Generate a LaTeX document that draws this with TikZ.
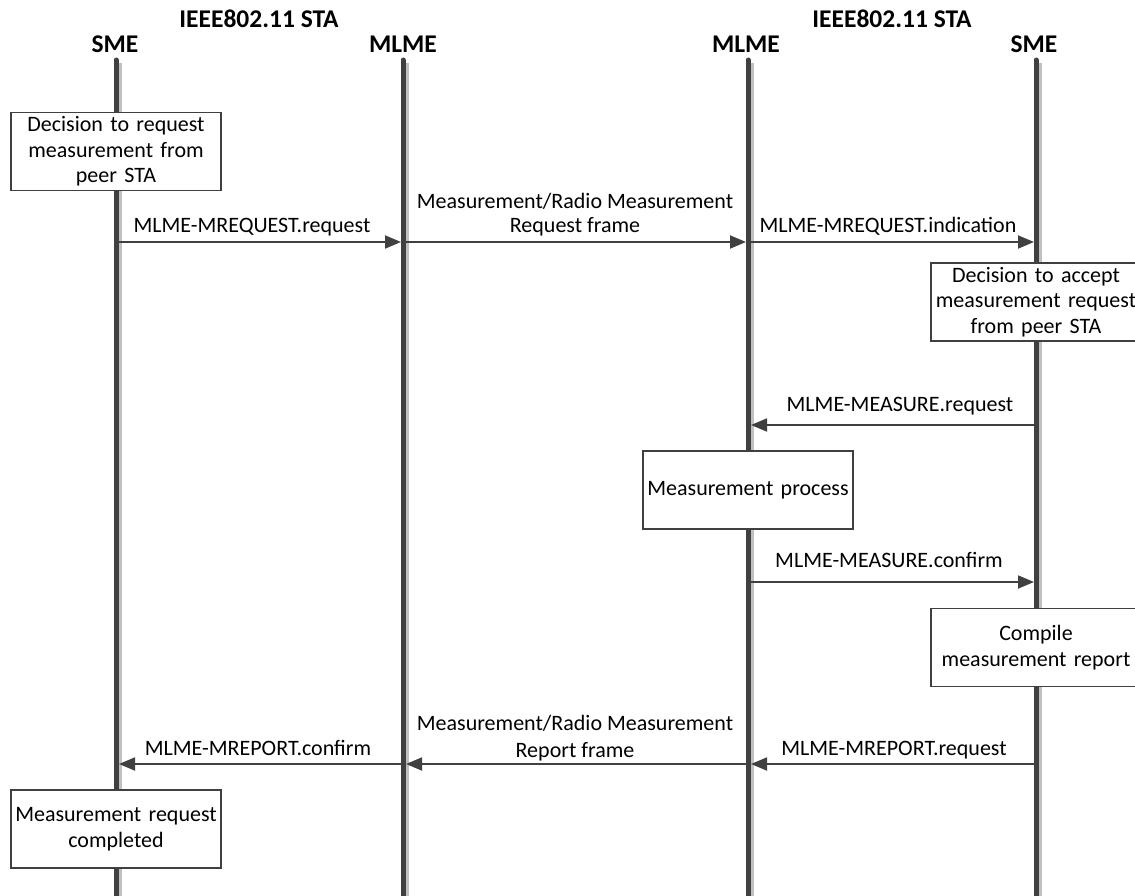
\documentclass[tikz,border=0pt]{standalone}
\usepackage{fontspec}
\setmainfont{Carlito}
\usetikzlibrary{arrows.meta,calc}
\definecolor{darkline}{HTML}{404040}
\definecolor{shadowgray}{HTML}{C0C0C0}
\definecolor{arrowgray}{HTML}{404040}
\tikzset{
  lifeshadow/.style={line width=3.5pt, draw=shadowgray},
  lifeline/.style={line width=5pt, draw=darkline, line cap=round},
  msg/.style={line width=1.8pt, draw=arrowgray, -{Triangle[length=16pt,width=13pt,fill=arrowgray]}},
  actbox/.style={draw=darkline, line width=1.4pt, fill=white, align=center,
    minimum width=210pt, minimum height=78pt, text width=205pt, inner sep=0pt,
    font=\fontsize{22}{25.5}\selectfont},
  hdr/.style={font=\bfseries\fontsize{25.5}{30}\selectfont, anchor=base, inner sep=0pt},
  lbl/.style={font=\fontsize{22}{25.5}\selectfont, align=center, anchor=base, inner sep=0pt}
}
\begin{document}
\begin{tikzpicture}[x=1pt,y=-1pt]
\useasboundingbox (0,0) rectangle (1135,896);
\clip (0,0) rectangle (1135,896);
\fill[white] (0,0) rectangle (1135,896);

% headers
\node[hdr] (staA) at (259,28) {IEEE802.11 STA};
\node[hdr] (staB) at (892,28) {IEEE802.11 STA};
\node[hdr] (hSA) at (115,53) {SME};
\node[hdr] (hMA) at (403,53) {MLME};
\node[hdr] (hMB) at (746,53) {MLME};
\node[hdr] (hSB) at (1034,53) {SME};

% lifeline coordinates
\coordinate (tSA) at (116,60);  \coordinate (bSA) at (116,900);
\coordinate (tMA) at (403,60);  \coordinate (bMA) at (403,900);
\coordinate (tMB) at (748,60);  \coordinate (bMB) at (748,900);
\coordinate (tSB) at (1036,60); \coordinate (bSB) at (1036,900);

\foreach \l in {SA,MA,MB,SB}{
  \draw[lifeshadow] ($(t\l)+(4,3)$) -- ($(b\l)+(4,0)$);
  \draw[lifeline] (t\l) -- (b\l);
}

% activity boxes
\node[actbox] (decReq) at (116,151.5) {Decision to request\\measurement from\\peer STA};
\node[actbox] (decAcc) at (1036,302) {Decision to accept\\measurement request\\from peer STA};
\node[actbox] (measProc) at (748,490) {Measurement process};
\node[actbox] (compile) at (1036,647.5) {Compile\\measurement report};
\node[actbox] (done) at (116,829) {Measurement request\\completed};

% message endpoints
\coordinate (m1s) at (116,242);  \coordinate (m1e) at (401,242);
\coordinate (m2s) at (403,242);  \coordinate (m2e) at (746,242);
\coordinate (m3s) at (748,242);  \coordinate (m3e) at (1034,242);
\coordinate (m4s) at (1036,425); \coordinate (m4e) at (751,425);
\coordinate (m5s) at (748,582);  \coordinate (m5e) at (1034,582);
\coordinate (m6s) at (1036,764); \coordinate (m6e) at (751,764);
\coordinate (m7s) at (748,764);  \coordinate (m7e) at (406,764);
\coordinate (m8s) at (403,764);  \coordinate (m8e) at (119,764);

\draw[msg] (m1s) -- (m1e);
\draw[msg] (m2s) -- (m2e);
\draw[msg] (m3s) -- (m3e);
\draw[msg] (m4s) -- (m4e);
\draw[msg] (m5s) -- (m5e);
\draw[msg] (m6s) -- (m6e);
\draw[msg] (m7s) -- (m7e);
\draw[msg] (m8s) -- (m8e);

% labels
\node[lbl] (l1) at (252,233) {MLME-MREQUEST.request};
\node[lbl] (l2a) at (575,208) {Measurement/Radio Measurement};
\node[lbl] (l2b) at (575,233) {Request frame};
\node[lbl] (l3) at (888,233) {MLME-MREQUEST.indication};
\node[lbl] (l4) at (900,411) {MLME-MEASURE.request};
\node[lbl] (l5) at (889,567) {MLME-MEASURE.confirm};
\node[lbl] (l6) at (894,755) {MLME-MREPORT.request};
\node[lbl] (l7a) at (575,730) {Measurement/Radio Measurement};
\node[lbl] (l7b) at (575,757) {Report frame};
\node[lbl] (l8) at (258,755) {MLME-MREPORT.confirm};
\end{tikzpicture}
\end{document}
